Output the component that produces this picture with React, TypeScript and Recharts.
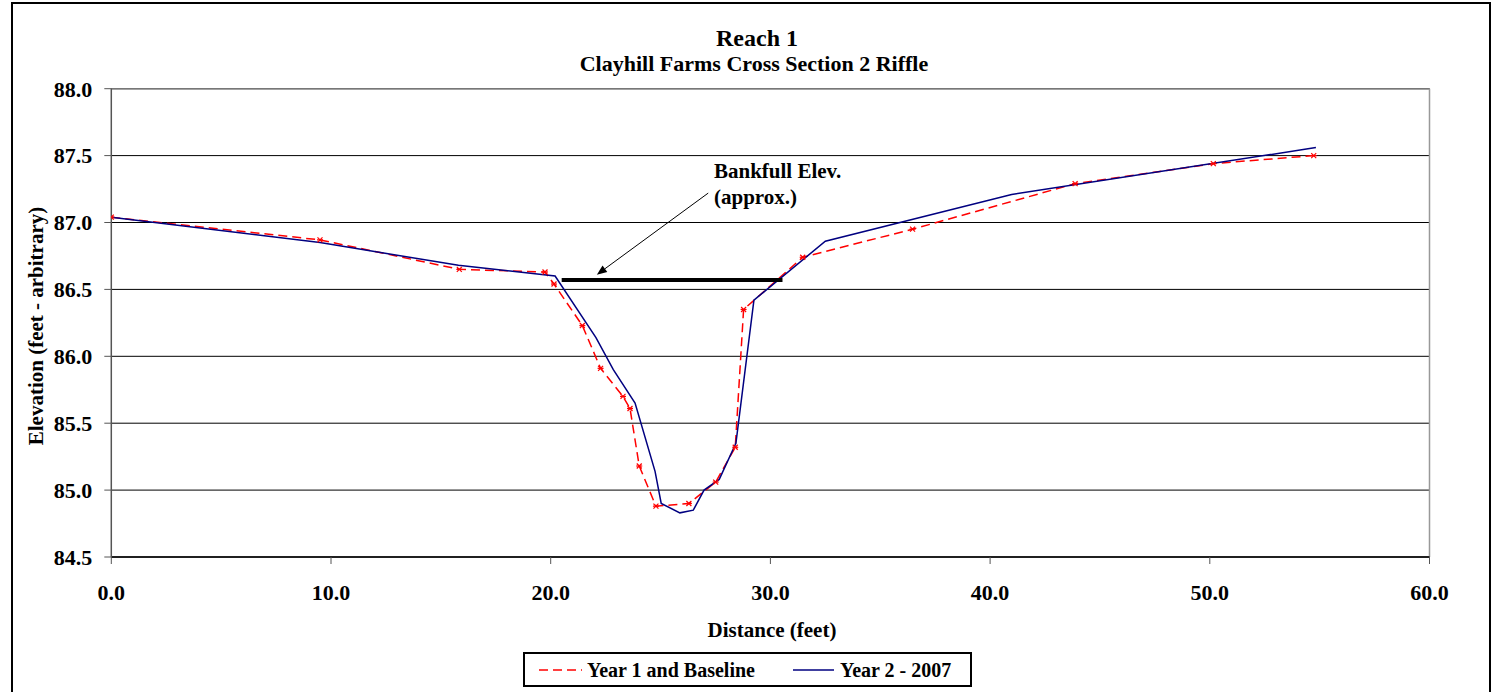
import React from "react";
import {
  CartesianGrid,
  Legend,
  Line,
  LineChart,
  ReferenceLine,
  XAxis,
  YAxis,
} from "recharts";

// Year 1 and Baseline survey (distance ft, elevation ft)
const year1X = [0, 9.5, 15.84, 19.74, 20.15, 21.44, 22.27, 23.29, 23.61, 24.03, 24.79, 26.29, 27.51, 28.4, 28.78, 31.47, 36.47, 43.87, 50.16, 54.73];
const year1Y = [87.04, 86.87, 86.65, 86.63, 86.54, 86.23, 85.91, 85.7, 85.61, 85.18, 84.88, 84.9, 85.06, 85.32, 86.35, 86.74, 86.95, 87.29, 87.44, 87.5];

// Year 2 - 2007 survey
const year2X = [0, 9.5, 15.8, 20.2, 22.06, 22.85, 23.84, 24.75, 25.03, 25.88, 26.49, 26.98, 27.67, 28.43, 29.25, 32.5, 40.98, 54.83];
const year2Y = [87.04, 86.85, 86.68, 86.6, 86.14, 85.9, 85.65, 85.14, 84.9, 84.83, 84.85, 85.0, 85.08, 85.35, 86.42, 86.86, 87.21, 87.56];

// bankfull elevation bar and its pointer
const bankfullX = [20.5, 30.55];
const bankfullElev = 86.57;
const pointerFrom = { x: 27.17, y: 87.22 };
const pointerTo = { x: 22.1, y: 86.61 };

const xTicks = [0, 10, 20, 30, 40, 50, 60];
const yTicks = [84.5, 85, 85.5, 86, 86.5, 87, 87.5, 88];

const year1 = year1X.map((x, i) => ({ x, y: year1Y[i] }));
const year2 = year2X.map((x, i) => ({ x, y: year2Y[i] }));

const FONT = "Liberation Serif, DejaVu Serif, serif";
const RED = "#FF0000";
const NAVY = "#000080";

function StarMark(props: any) {
  const { cx, cy } = props;
  if (cx == null || cy == null) return null;
  return (
    <g stroke={RED} strokeWidth={1.2}>
      <line x1={cx - 2.5} y1={cy - 2.5} x2={cx + 2.5} y2={cy + 2.5} />
      <line x1={cx - 2.5} y1={cy + 2.5} x2={cx + 2.5} y2={cy - 2.5} />
      <line x1={cx - 3} y1={cy} x2={cx + 3} y2={cy} />
    </g>
  );
}

function Arrow(props: any) {
  const { x1, y1, x2, y2 } = props;
  if (x1 == null) return null;
  const ang = Math.atan2(y2 - y1, x2 - x1);
  const len = 10;
  const w = 4;
  const bx = x2 - len * Math.cos(ang);
  const by = y2 - len * Math.sin(ang);
  const px = -Math.sin(ang) * w;
  const py = Math.cos(ang) * w;
  return (
    <g>
      <line x1={x1} y1={y1} x2={bx} y2={by} stroke="#000" strokeWidth={1} />
      <polygon points={`${x2},${y2} ${bx + px},${by + py} ${bx - px},${by - py}`} fill="#000" />
    </g>
  );
}

function LegendBox() {
  const txt: React.CSSProperties = {
    position: "absolute",
    top: 3,
    fontFamily: FONT,
    fontWeight: "bold",
    fontSize: 20,
    lineHeight: "26px",
    color: "#000",
    whiteSpace: "nowrap",
  };
  return (
    <div
      style={{
        position: "relative",
        width: 449,
        height: 35,
        border: "2px solid #000",
        boxSizing: "border-box",
        background: "#fff",
      }}
    >
      <svg width={449} height={35} style={{ position: "absolute", left: -2, top: -2 }}>
        <line x1={16} y1={18} x2={59} y2={18} stroke={RED} strokeWidth={1.5} strokeDasharray="9 5" />
        <line x1={270} y1={18} x2={311} y2={18} stroke={NAVY} strokeWidth={1.5} />
      </svg>
      <span style={{ ...txt, left: 62 }}>Year 1 and Baseline</span>
      <span style={{ ...txt, left: 315 }}>Year 2 - 2007</span>
    </div>
  );
}

export default function App() {
  return (
    <div style={{ position: "relative", width: 1498, height: 692, background: "#fff", overflow: "hidden" }}>
      <style>{`body{margin:0}`}</style>
      <div
        style={{
          position: "absolute",
          left: 11,
          top: 2,
          width: 1480,
          height: 720,
          border: "2px solid #000",
          boxSizing: "border-box",
        }}
      />
      <LineChart
        width={1498}
        height={692}
        margin={{ top: 88.7, right: 68.5, bottom: 105, left: 51.3 }}
        style={{ position: "absolute", left: 0, top: 0 }}
      >
        <CartesianGrid horizontal vertical={false} stroke="#000" strokeWidth={1} />
        <XAxis
          type="number"
          dataKey="x"
          domain={[0, 60]}
          ticks={xTicks}
          tickFormatter={(v: number) => v.toFixed(1)}
          height={30}
          allowDataOverflow
          axisLine={{ stroke: "#000", strokeWidth: 1.5 }}
          tickLine={{ stroke: "#555" }}
          tickSize={7}
          tickMargin={20}
          tick={{ fill: "#000", fontFamily: FONT, fontWeight: "bold", fontSize: 22 }}
        />
        <YAxis
          type="number"
          dataKey="y"
          domain={[84.5, 88]}
          ticks={yTicks}
          tickFormatter={(v: number) => v.toFixed(1)}
          width={60}
          allowDataOverflow
          axisLine={{ stroke: "#555", strokeWidth: 1.5 }}
          tickLine={{ stroke: "#555" }}
          tickSize={7}
          tickMargin={12}
          tick={{ fill: "#000", fontFamily: FONT, fontWeight: "bold", fontSize: 22 }}
        />
        <ReferenceLine y={88} stroke="#777" strokeWidth={1.5} />
        <ReferenceLine x={60} stroke="#999" strokeWidth={1.5} />
        <Line
          data={year1}
          dataKey="y"
          name="Year 1 and Baseline"
          stroke={RED}
          strokeWidth={1.5}
          strokeDasharray="9 5"
          dot={<StarMark />}
          activeDot={false}
          isAnimationActive={false}
        />
        <Line
          data={year2}
          dataKey="y"
          name="Year 2 - 2007"
          stroke={NAVY}
          strokeWidth={1.5}
          dot={false}
          activeDot={false}
          isAnimationActive={false}
        />
        <ReferenceLine
          segment={[
            { x: bankfullX[0], y: bankfullElev },
            { x: bankfullX[1], y: bankfullElev },
          ]}
          stroke="#000"
          strokeWidth={4}
        />
        <ReferenceLine
          segment={[pointerFrom, pointerTo]}
          stroke="#000"
          shape={(p: any) => <Arrow {...p} />}
        />
        <Legend
          layout="horizontal"
          verticalAlign="middle"
          align="center"
          content={() => <LegendBox />}
          wrapperStyle={{ position: "absolute", left: 523, top: 652, width: 449, height: 35, bottom: "auto" }}
        />
        <text x={757} y={46} textAnchor="middle" fontFamily={FONT} fontWeight="bold" fontSize={24} fill="#000">
          Reach 1
        </text>
        <text x={754} y={71} textAnchor="middle" fontFamily={FONT} fontWeight="bold" fontSize={22} fill="#000">
          Clayhill Farms Cross Section 2 Riffle
        </text>
        <text x={772} y={637} textAnchor="middle" fontFamily={FONT} fontWeight="bold" fontSize={21} fill="#000">
          Distance (feet)
        </text>
        <text
          transform="translate(43,326) rotate(-90)"
          textAnchor="middle"
          fontFamily={FONT}
          fontWeight="bold"
          fontSize={21}
          fill="#000"
        >
          Elevation (feet - arbitrary)
        </text>
        <text x={714} y={178} fontFamily={FONT} fontWeight="bold" fontSize={21} fill="#000">
          Bankfull Elev.
        </text>
        <text x={714} y={204} fontFamily={FONT} fontWeight="bold" fontSize={21} fill="#000">
          (approx.)
        </text>
      </LineChart>
    </div>
  );
}
